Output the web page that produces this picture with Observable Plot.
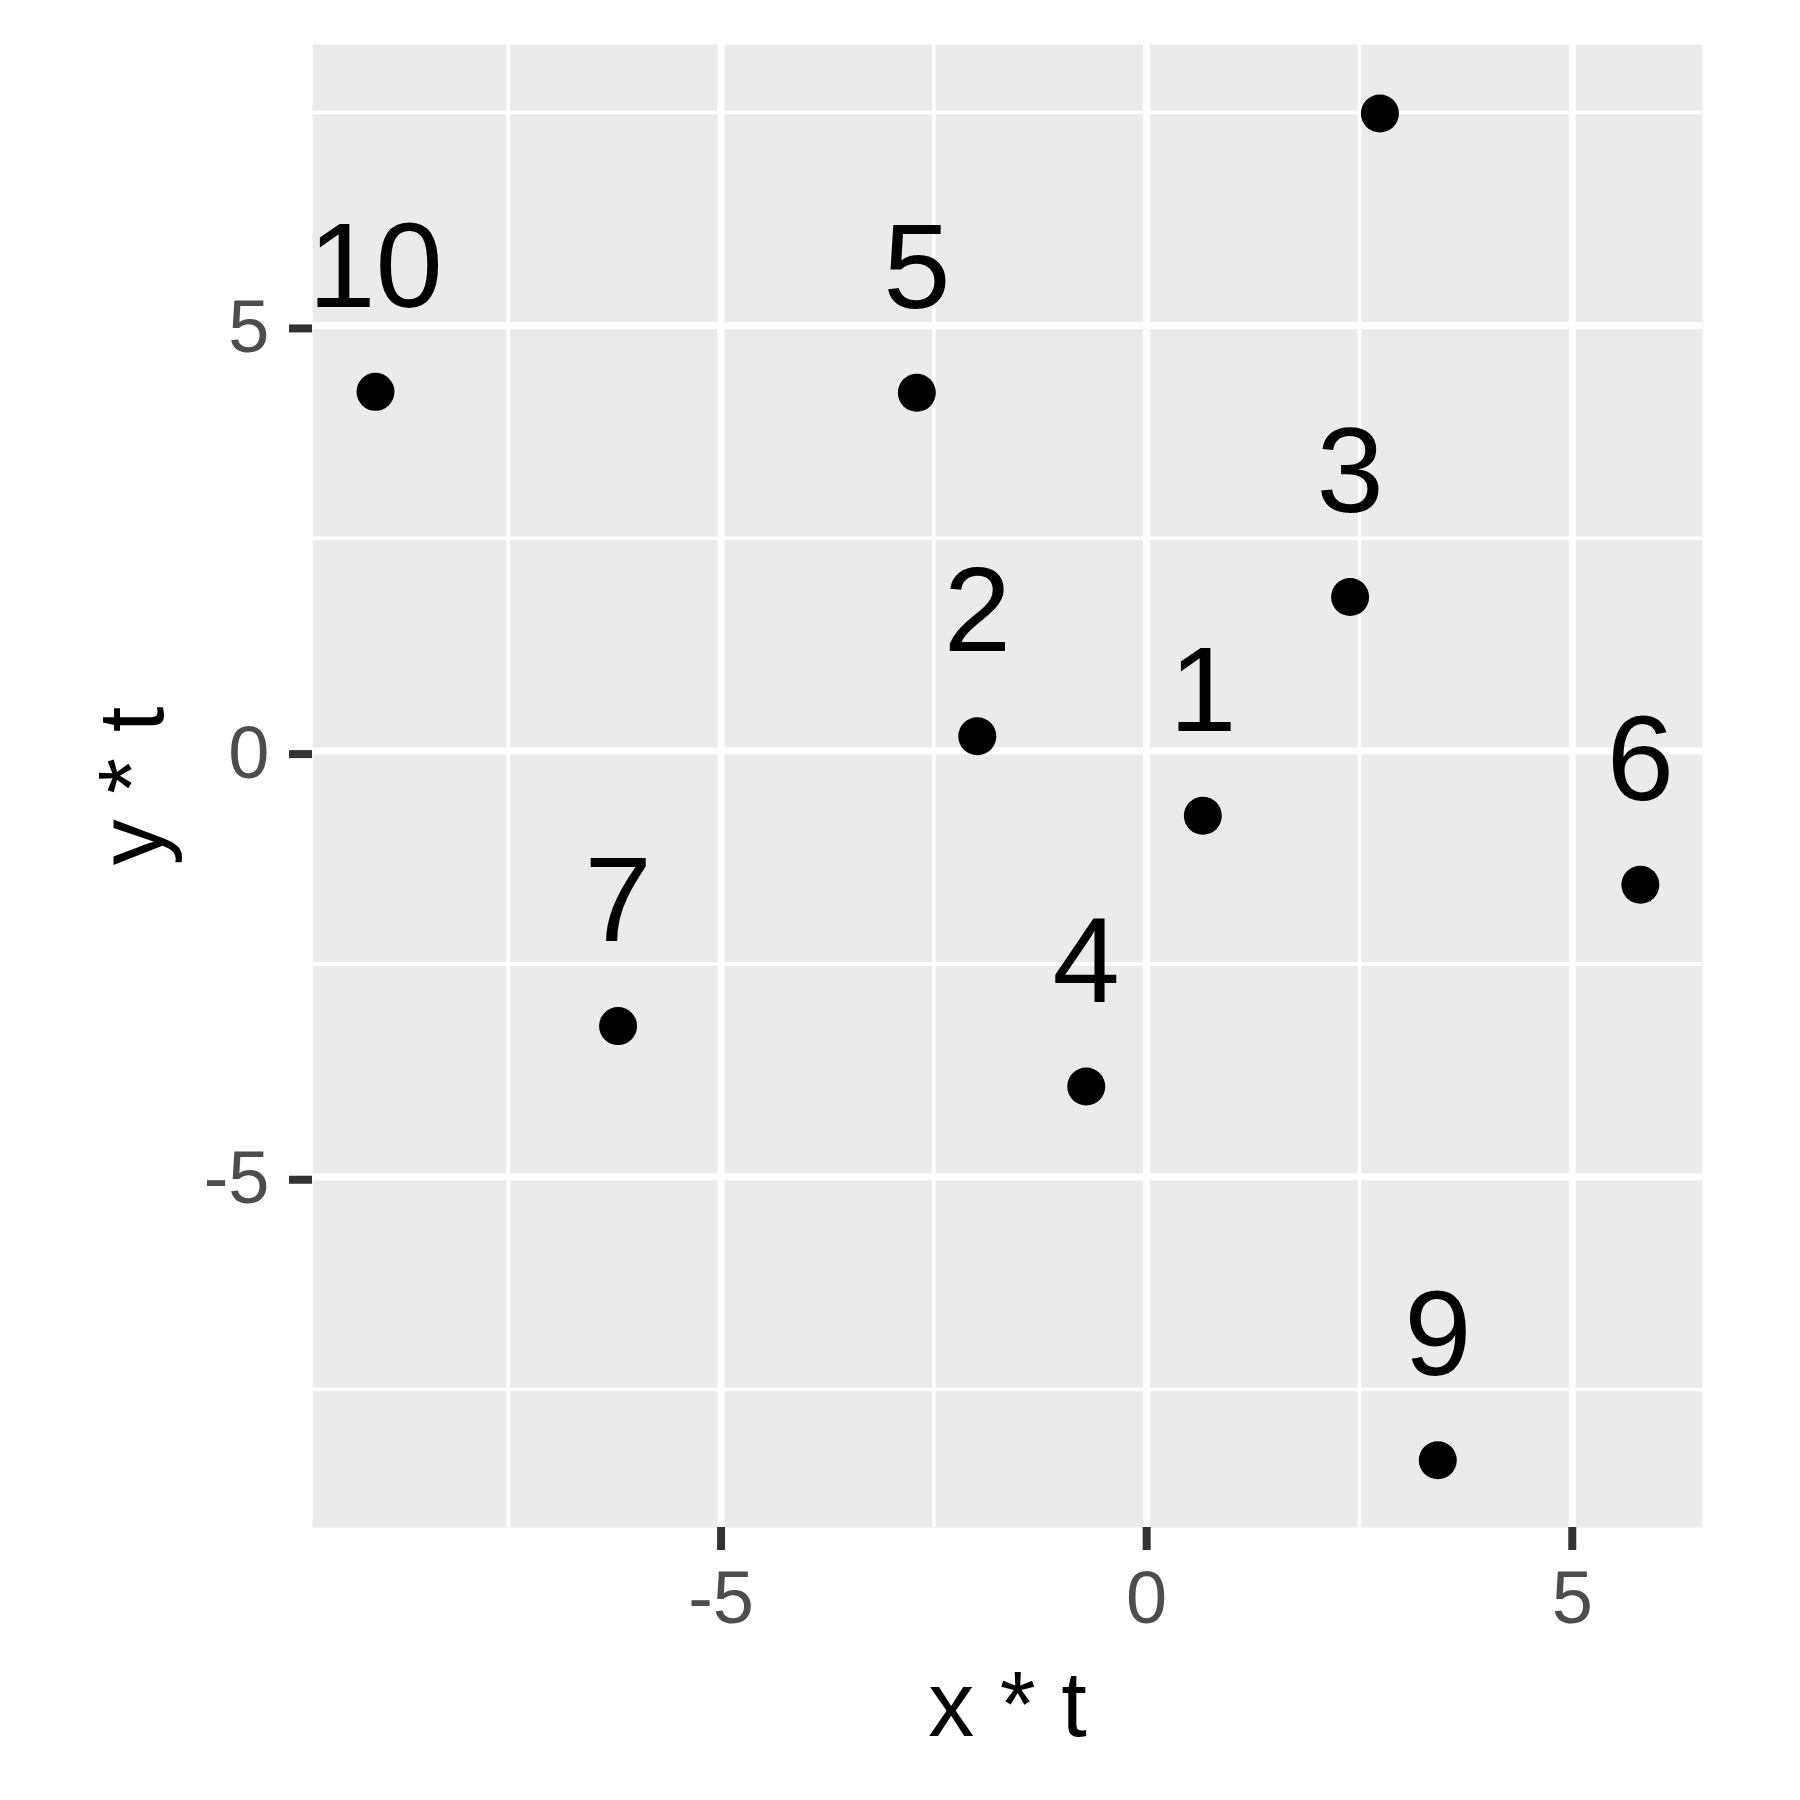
<!DOCTYPE html>
<html>
<head>
<meta charset="utf-8">
<script src="https://cdn.jsdelivr.net/npm/d3@7"></script>
<script src="https://cdn.jsdelivr.net/npm/@observablehq/plot@0.6"></script>
<style>
  html, body { margin: 0; padding: 0; background: #ffffff; }
</style>
</head>
<body>
<div id="chart"></div>
<script>
// ---- data ----
const pointLabels = ["1", "2", "3", "4", "5", "6", "7", "8", "9", "10"];
const xValues = [0.66, -1.99, 2.39, -0.71, -2.70, 5.80, -6.21, 2.74, 3.42, -9.06];
const yValues = [-0.76, 0.175, 1.81, -3.94, 4.21, -1.57, -3.23, 7.49, -8.33, 4.22];
const labelNudgeY = 1.5;

const xMajorTicks = [-5, 0, 5];
const xMinorTicks = [-7.5, -2.5, 2.5];
const yMajorTicks = [-5, 0, 5];
const yMinorTicks = [-7.5, -2.5, 2.5, 7.5];
const xDomain = [-9.8, 6.53];
const yDomain = [-9.12, 8.3];
const xTitle = "x * t";
const yTitle = "y * t";

const data = pointLabels.map((label, i) => ({ label, x: xValues[i], y: yValues[i] }));
// labels whose nudged position falls outside the panel are clipped away (as in the reference)
const labelData = data.filter(d => d.y + labelNudgeY <= yDomain[1]);

const chart = Plot.plot({
  width: 1800,
  height: 1800,
  marginLeft: 312,
  marginRight: 98,
  marginTop: 44,
  marginBottom: 273,
  style: { fontFamily: "'Liberation Sans', Arial, sans-serif", background: "#ffffff" },
  x: { domain: xDomain },
  y: { domain: yDomain },
  marks: [
    Plot.frame({ fill: "#EBEBEB", stroke: "none" }),
    Plot.ruleX(xMinorTicks, { stroke: "#ffffff", strokeWidth: 3.5 }),
    Plot.ruleY(yMinorTicks, { stroke: "#ffffff", strokeWidth: 3.5 }),
    Plot.ruleX(xMajorTicks, { stroke: "#ffffff", strokeWidth: 7 }),
    Plot.ruleY(yMajorTicks, { stroke: "#ffffff", strokeWidth: 7 }),
    Plot.axisX(xMajorTicks, {
      tickSize: 23, tickPadding: 20, fontSize: 74,
      color: "#4D4D4D", stroke: "#333333", strokeWidth: 8, strokeLinecap: "butt",
      tickFormat: d => String(d), label: null
    }),
    Plot.axisY(yMajorTicks, {
      tickSize: 23, tickPadding: 20, fontSize: 74,
      color: "#4D4D4D", stroke: "#333333", strokeWidth: 8, strokeLinecap: "butt",
      tickFormat: d => String(d), label: null, dy: 3
    }),
    Plot.dot(data, { x: "x", y: "y", r: 19, fill: "#000000", stroke: "none" }),
    Plot.text(labelData, {
      x: "x", y: d => d.y + labelNudgeY, text: "label",
      fontSize: 121, fill: "#000000", lineAnchor: "middle", dy: 4, clip: true
    }),
    Plot.text([xTitle], {
      text: d => d, frameAnchor: "bottom", textAnchor: "middle", dy: 179, fontSize: 92,
      fill: "#000000", lineAnchor: "middle"
    }),
    Plot.text([yTitle], {
      text: d => d, frameAnchor: "left", textAnchor: "middle", dx: -179, rotate: -90, fontSize: 92,
      fill: "#000000", lineAnchor: "middle"
    })
  ]
});

document.getElementById("chart").appendChild(chart);
</script>
</body>
</html>
